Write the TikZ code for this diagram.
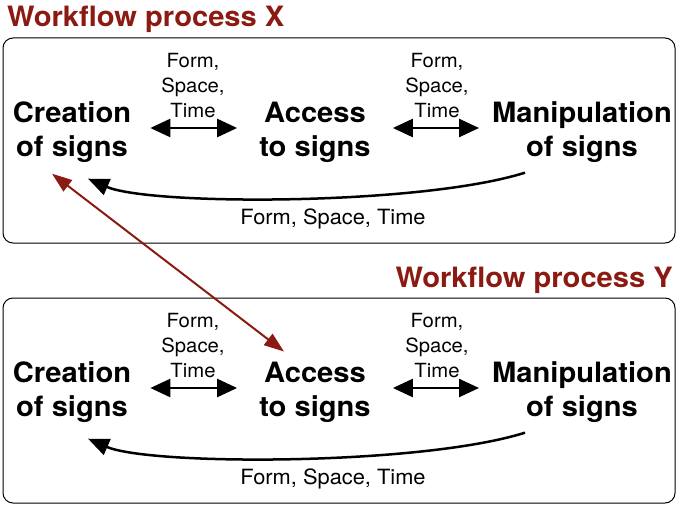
\documentclass[tikz,border=0pt]{standalone}
\usepackage{fontspec}
\setmainfont{TeX Gyre Heros}[FakeStretch=1.04]
\usetikzlibrary{arrows.meta}
\definecolor{darkred}{HTML}{8B1A12}

\begin{document}
\begin{tikzpicture}[x=1pt, y=-1pt,
    sign/.style={font=\fontsize{28}{34}\selectfont\bfseries, align=center, inner sep=0pt},
    medium/.style={font=\fontsize{19.5}{25}\selectfont, align=center, inner sep=0pt},
    heading/.style={font=\fontsize{28}{32}\selectfont\bfseries, text=darkred, inner sep=0pt},
    panel/.style={draw, line width=1pt, rounded corners=10pt},
    both/.style={line width=2.5pt, {Triangle[length=20pt,width=18pt]}-{Triangle[length=20pt,width=18pt]}},
    back/.style={line width=2.5pt, -{Triangle[length=21pt,width=17pt]}},
    cross/.style={darkred, line width=2pt, {Triangle[length=20pt,width=14pt]}-{Triangle[length=20pt,width=14pt]}}]

    \useasboundingbox (0,0) rectangle (676,505);

    % Upper workflow
    \node[heading, anchor=base west] (titX) at (7,27) {Workflow process X};
    \draw[panel] (3,38) rectangle (675,243);

    \node[sign] (creX) at (72,132) {Creation\\of signs};
    \node[sign] (accX) at (315,132) {Access\\to signs};
    \node[sign] (manX) at (582,132) {Manipulation\\of signs};

    \node[medium] (labAX) at (193,86) {Form,\\Space,\\Time};
    \node[medium] (labBX) at (437,86) {Form,\\Space,\\Time};
    \node[medium, font=\fontsize{21}{25}\selectfont] (labCX) at (333,219) {Form, Space, Time};

    \draw[both, shorten <=19pt, shorten >=22pt] ([yshift=4pt]creX.east) -- ([yshift=4pt]accX.west);
    \draw[both, shorten <=22pt, shorten >=13pt] ([yshift=4pt]accX.east) -- ([yshift=4pt]manX.west);
    \draw[back] ([xshift=-57pt,yshift=-10pt]manX.south)
        .. controls +(-105,33) and +(62,27) .. ([xshift=16pt,yshift=-16pt]creX.south);

    % Lower workflow
    \node[heading, anchor=base east] (titY) at (673,287) {Workflow process Y};
    \draw[panel] (3,298) rectangle (675,503);

    \node[sign] (creY) at (72,392) {Creation\\of signs};
    \node[sign] (accY) at (315,392) {Access\\to signs};
    \node[sign] (manY) at (582,392) {Manipulation\\of signs};

    \node[medium] (labAY) at (193,346) {Form,\\Space,\\Time};
    \node[medium] (labBY) at (437,346) {Form,\\Space,\\Time};
    \node[medium, font=\fontsize{21}{25}\selectfont] (labCY) at (333,479) {Form, Space, Time};

    \draw[both, shorten <=19pt, shorten >=22pt] ([yshift=4pt]creY.east) -- ([yshift=4pt]accY.west);
    \draw[both, shorten <=22pt, shorten >=13pt] ([yshift=4pt]accY.east) -- ([yshift=4pt]manY.west);
    \draw[back] ([xshift=-57pt,yshift=-10pt]manY.south)
        .. controls +(-105,33) and +(62,27) .. ([xshift=16pt,yshift=-16pt]creY.south);

    % Link between the two workflows
    \draw[cross] ([xshift=-20pt,yshift=-11pt]creX.south) -- ([xshift=-31pt,yshift=10pt]accY.north);

\end{tikzpicture}
\end{document}
